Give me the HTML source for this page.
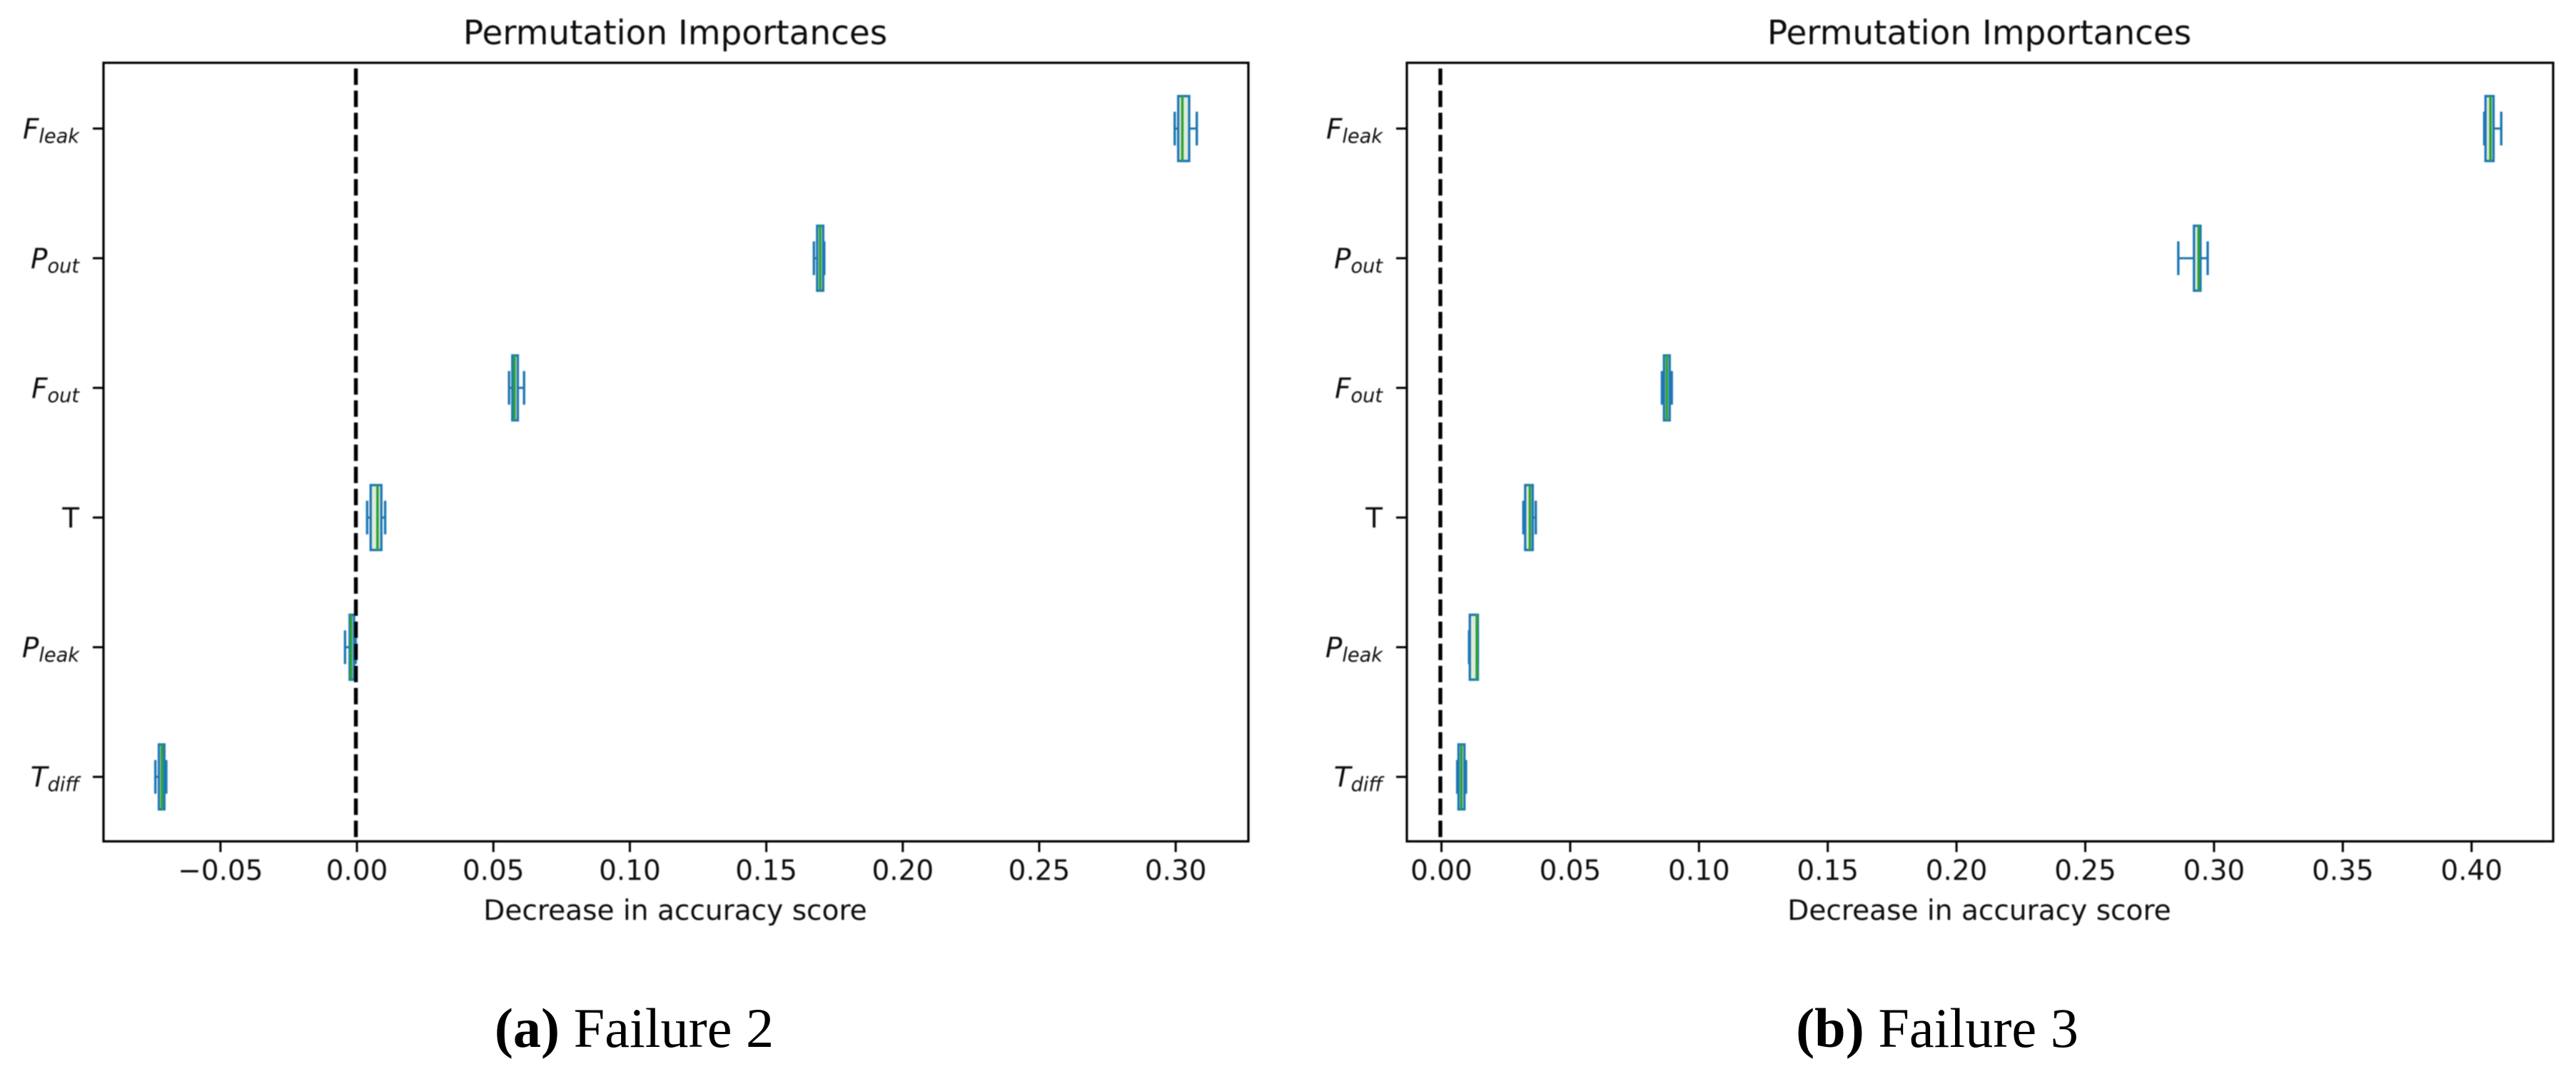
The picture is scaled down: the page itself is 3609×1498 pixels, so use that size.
<!DOCTYPE html>
<html lang="en">
<head>
<meta charset="utf-8">
<title>Permutation Importances</title>
<style>
html,body{margin:0;padding:0;background:#fff;width:3609px;height:1498px;overflow:hidden}
svg{position:absolute;left:0;top:0;display:block}
text{font-family:"DejaVu Sans","Liberation Sans",sans-serif;fill:#111}
</style>
</head>
<body>
<svg id="figure" xmlns="http://www.w3.org/2000/svg" width="3609" height="1498" viewBox="0 0 3609 1498">
<defs>
<filter id="soft" filterUnits="userSpaceOnUse" x="0" y="0" width="3609" height="1498"><feGaussianBlur stdDeviation="0.9"/></filter>
<filter id="softText" filterUnits="userSpaceOnUse" x="0" y="0" width="3609" height="1498"><feGaussianBlur stdDeviation="0.7"/></filter>
</defs>
<rect width="3609" height="1498" fill="#fff"/>
<text x="888.5" y="1467" text-anchor="middle" font-size="78.3" style="font-family:'Liberation Serif',serif;fill:#000"><tspan font-weight="700">(a)</tspan> Failure 2</text>
<text x="2714" y="1467" text-anchor="middle" font-size="78.3" style="font-family:'Liberation Serif',serif;fill:#000"><tspan font-weight="700">(b)</tspan> Failure 3</text>
</svg>
<script>
// Categories, bottom to top
const catBase = ['T', 'P', 'T', 'F', 'P', 'F'];
const catSub = ['diff', 'leak', '', 'out', 'out', 'leak'];

// Panel A (Failure 2) box statistics
const aLow = [-0.0736, -0.0041, 0.0040, 0.0560, 0.1677, 0.2999];
const aQ1 = [-0.0723, -0.0024, 0.0053, 0.0572, 0.1689, 0.3012];
const aMedian = [-0.0712, -0.0019, 0.0078, 0.0580, 0.1700, 0.3027];
const aQ3 = [-0.0703, -0.0008, 0.0092, 0.0592, 0.1711, 0.3052];
const aHigh = [-0.0696, -0.0002, 0.0106, 0.0615, 0.1715, 0.3080];
const aTicks = [-0.05, 0, 0.05, 0.10, 0.15, 0.20, 0.25, 0.30];
const aTickLabels = ['\u22120.05', '0.00', '0.05', '0.10', '0.15', '0.20', '0.25', '0.30'];

// Panel B (Failure 3) box statistics
const bLow = [0.0064, 0.0110, 0.0321, 0.0859, 0.2864, 0.4052];
const bQ1 = [0.0069, 0.0113, 0.0328, 0.0867, 0.2925, 0.4057];
const bMedian = [0.0080, 0.0140, 0.0346, 0.0878, 0.2943, 0.4076];
const bQ3 = [0.0092, 0.0144, 0.0357, 0.0889, 0.2950, 0.4088];
const bHigh = [0.0098, 0.0144, 0.0369, 0.0897, 0.2978, 0.4118];
const bTicks = [0, 0.05, 0.10, 0.15, 0.20, 0.25, 0.30, 0.35, 0.40];
const bTickLabels = ['0.00', '0.05', '0.10', '0.15', '0.20', '0.25', '0.30', '0.35', '0.40'];

const NS = 'http://www.w3.org/2000/svg';
const root = document.getElementById('figure');

function mk(parent, tag, attrs, txt) {
  const el = document.createElementNS(NS, tag);
  for (const k in attrs) el.setAttribute(k, attrs[k]);
  if (txt !== undefined) el.textContent = txt;
  parent.appendChild(el);
  return el;
}

function drawPanel(prefix, left, right, dLo, dHi, low, q1, med, q3, high, ticks, tickLabels) {
  const top = 88, bottom = 1179;
  const x = v => left + (v - dLo) / (dHi - dLo) * (right - left);
  const y = p => 1179.5 + (p - 0.5) / 6 * (89.3 - 1179.5);

  const panel = mk(root, 'g', {});
  
  

  const marks = mk(panel, 'g', { filter: 'url(#soft)' });
  
  

  catBase.forEach((b, i) => {
    const c = y(i + 1);
    const box = mk(marks, 'rect', {
      x: x(q1[i]), y: y(i + 1.25), width: x(q3[i]) - x(q1[i]), height: y(i + 0.75) - y(i + 1.25),
      fill: 'rgba(150,195,150,0.32)', stroke: '#1f77b4', 'stroke-width': 3.4
    });
    
    

    const wl = mk(marks, 'line', { x1: x(low[i]), x2: x(q1[i]), y1: c, y2: c, stroke: '#1f77b4', 'stroke-width': 3 });
    
    
    const wh = mk(marks, 'line', { x1: x(q3[i]), x2: x(high[i]), y1: c, y2: c, stroke: '#1f77b4', 'stroke-width': 3 });
    
    
    const cl = mk(marks, 'line', { x1: x(low[i]), x2: x(low[i]), y1: y(i + 1.13), y2: y(i + 0.87), stroke: '#1f77b4', 'stroke-width': 3.4 });
    
    
    const ch = mk(marks, 'line', { x1: x(high[i]), x2: x(high[i]), y1: y(i + 1.13), y2: y(i + 0.87), stroke: '#1f77b4', 'stroke-width': 3.4 });
    
    
    const m = mk(marks, 'line', { x1: x(med[i]), x2: x(med[i]), y1: y(i + 1.25), y2: y(i + 0.75), stroke: '#2ca02c', 'stroke-width': 3.6 });
    
    
  });

  const zero = mk(marks, 'line', {
    x1: x(0) - 0.5, x2: x(0) - 0.5, y1: 96, y2: bottom, stroke: '#000', 'stroke-width': 5.4, 'stroke-dasharray': '23 8'
  });
  
  

  const axes = mk(panel, 'g', { filter: 'url(#soft)' });
  
  

  const frame = mk(axes, 'rect', { x: left, y: top, width: right - left, height: bottom - top, fill: 'none', stroke: '#000', 'stroke-width': 3.2 });
  
  

  const labels = mk(panel, 'g', { filter: 'url(#softText)' });
  
  

  ticks.forEach((t, i) => {
    const tx = x(t) + 1;
    const tk = mk(axes, 'line', { x1: tx, x2: tx, y1: bottom, y2: bottom + 15, stroke: '#000', 'stroke-width': 3 });
    
    
    const lab = mk(labels, 'text', { x: tx, y: 1233, 'text-anchor': 'middle', 'font-size': 38.9 }, tickLabels[i]);
    
    
  });

  catBase.forEach((b, i) => {
    const c = y(i + 1);
    const tk = mk(axes, 'line', { x1: left - 15, x2: left, y1: c, y2: c, stroke: '#000', 'stroke-width': 3 });
    
    
    const lab = mk(labels, 'text', { x: left - 34, y: c + 14, 'text-anchor': 'end', 'font-size': 38.9 });
    
    
    if (catSub[i]) {
      mk(lab, 'tspan', { 'font-style': 'italic' }, b);
      mk(lab, 'tspan', { 'font-style': 'italic', 'font-size': 27.2, dy: 6 }, catSub[i]);
    } else {
      lab.textContent = b;
    }
  });

  const title = mk(labels, 'text', { x: (left + right) / 2 - 1, y: 62, 'text-anchor': 'middle', 'font-size': 46.9 }, 'Permutation Importances');
  
  

  const xt = mk(labels, 'text', { x: (left + right) / 2 - 1, y: 1289, 'text-anchor': 'middle', 'font-size': 39.1 }, 'Decrease in accuracy score');
  
  
}

drawPanel('failure-2', 145, 1749, -0.0926, 0.3269, aLow, aQ1, aMedian, aQ3, aHigh, aTicks, aTickLabels);
drawPanel('failure-3', 1971, 3577, -0.01316, 0.43196, bLow, bQ1, bMedian, bQ3, bHigh, bTicks, bTickLabels);
</script>
</body>
</html>
